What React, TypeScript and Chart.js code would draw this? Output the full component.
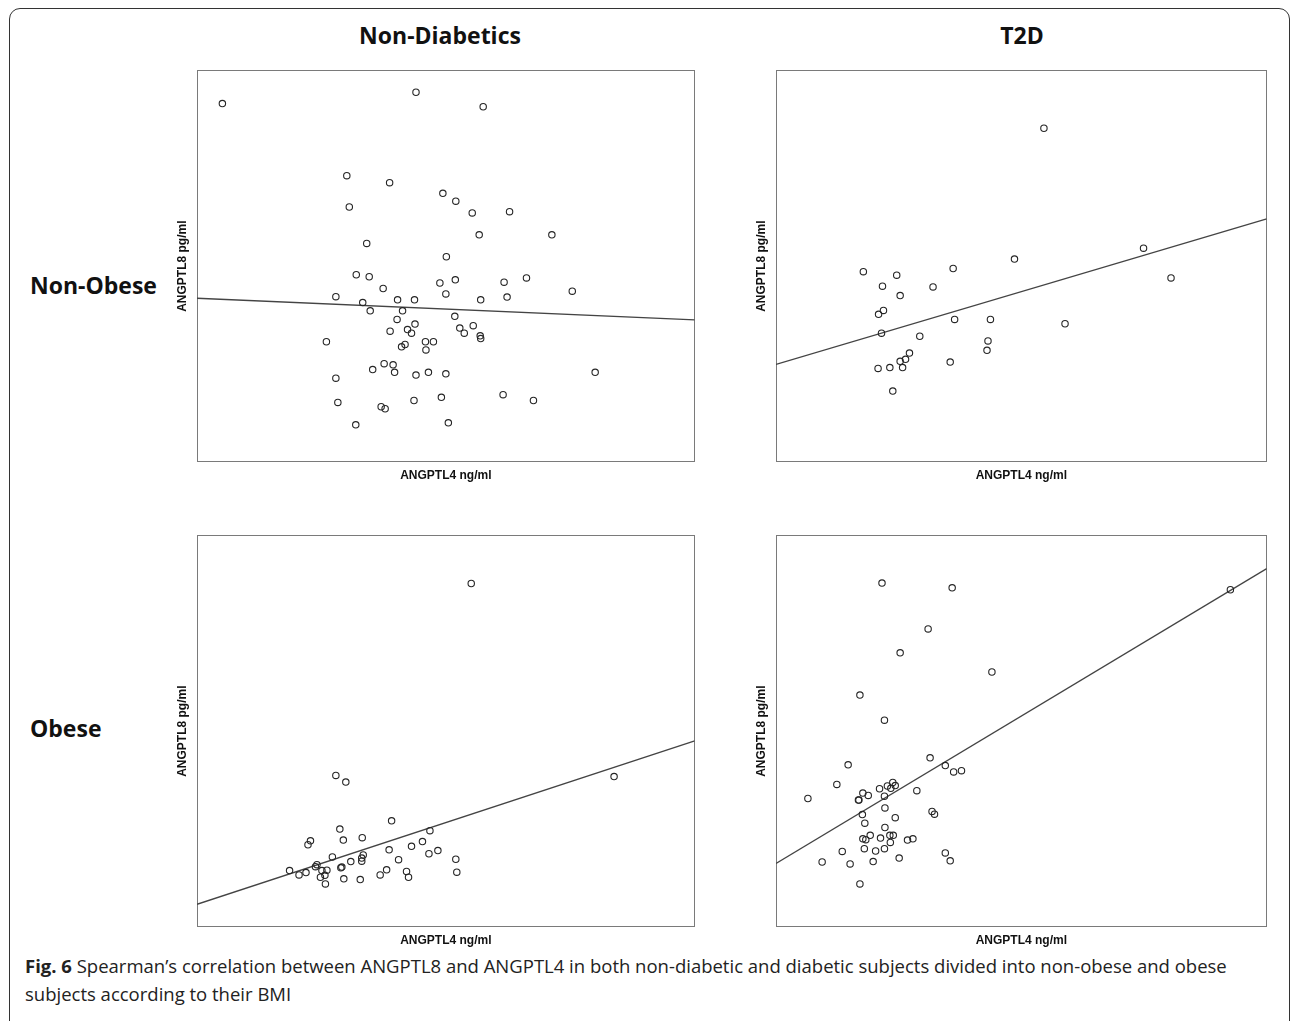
import React, { useEffect, useRef } from "react";
import { Chart, registerables } from "chart.js";

Chart.register(...registerables);

// ---------- text ----------
const xTitle = "ANGPTL4 ng/ml";
const yTitle = "ANGPTL8 pg/ml";
const colTitles = ["Non-Diabetics", "T2D"];
const rowTitles = ["Non-Obese", "Obese"];

// ---------- axis range (no ticks shown, relative units) ----------
const axisMin = 0;
const axisMax = 100;
const fitX = [0, 100];

// ---------- Non-Diabetics / Non-Obese ----------
const ndNonObeseX = [5.1, 44.0, 57.5, 30.1, 38.7, 49.4, 52.0, 55.3, 62.8, 30.6, 56.7, 71.3, 34.1, 50.1, 32.0, 34.6, 48.8, 51.9, 61.7, 66.2, 37.4, 50.0, 75.4, 27.9, 40.3, 43.7, 57.0, 62.3, 33.3, 34.8, 41.3, 51.8, 40.2, 43.8, 55.5, 38.8, 42.3, 43.1, 52.8, 53.7, 56.9, 57.0, 26.0, 45.9, 47.5, 41.8, 41.1, 46.0, 37.6, 39.4, 35.3, 39.7, 44.0, 46.5, 50.0, 80.0, 27.9, 61.5, 49.1, 28.3, 43.6, 67.6, 37.0, 37.8, 31.9, 50.5];
const ndNonObeseY = [91.5, 94.4, 90.7, 73.1, 71.3, 68.6, 66.6, 63.6, 63.9, 65.1, 58.0, 58.0, 55.8, 52.4, 47.8, 47.3, 45.7, 46.5, 45.9, 47.0, 44.3, 42.9, 43.6, 42.2, 41.4, 41.4, 41.4, 42.1, 40.7, 38.6, 38.6, 37.2, 36.4, 35.2, 34.8, 33.4, 33.8, 32.9, 34.2, 32.9, 32.2, 31.5, 30.7, 30.7, 30.7, 30.0, 29.4, 28.6, 25.1, 24.8, 23.6, 22.9, 22.2, 22.9, 22.5, 22.9, 21.4, 17.2, 16.5, 15.2, 15.7, 15.7, 14.1, 13.6, 9.5, 10.0];
const ndNonObeseFitY = [41.8, 36.3];

// ---------- T2D / Non-Obese ----------
const t2dNonObeseX = [54.6, 74.9, 48.6, 80.5, 17.8, 24.6, 36.1, 21.7, 32.0, 25.3, 21.9, 20.9, 36.4, 43.7, 58.9, 21.5, 29.3, 43.2, 43.0, 27.2, 26.4, 25.3, 35.5, 20.8, 23.2, 25.8, 23.8];
const t2dNonObeseY = [85.2, 54.6, 51.8, 47.0, 48.6, 47.7, 49.4, 44.9, 44.7, 42.5, 38.7, 37.7, 36.4, 36.4, 35.3, 32.9, 32.1, 30.9, 28.5, 27.8, 26.2, 25.7, 25.5, 23.9, 24.1, 24.1, 18.1];
const t2dNonObeseFitY = [24.9, 62.1];

// ---------- Non-Diabetics / Obese ----------
const ndObeseX = [55.1, 27.9, 29.9, 83.8, 39.1, 28.7, 46.8, 33.2, 29.4, 22.8, 22.3, 45.3, 43.1, 38.6, 48.4, 46.6, 27.2, 33.4, 33.1, 33.1, 30.9, 40.5, 52.0, 24.1, 23.8, 28.9, 29.1, 18.6, 21.9, 20.5, 26.1, 25.1, 25.7, 24.8, 25.8, 29.5, 32.8, 36.8, 38.1, 42.1, 42.5, 52.2];
const ndObeseY = [87.7, 38.7, 37.0, 38.4, 27.1, 25.0, 24.6, 22.8, 22.2, 22.0, 21.0, 21.8, 20.6, 19.7, 19.5, 18.7, 17.9, 18.4, 17.6, 16.8, 16.7, 17.2, 17.3, 15.9, 15.4, 15.1, 15.3, 14.4, 13.9, 13.3, 14.5, 14.4, 13.2, 12.7, 11.0, 12.3, 12.1, 13.3, 14.6, 14.2, 12.7, 14.0];
const ndObeseFitY = [5.8, 47.5];

// ---------- T2D / Obese ----------
const t2dObeseX = [21.6, 35.9, 92.6, 31.0, 25.3, 44.0, 17.1, 22.1, 31.4, 14.7, 34.5, 36.2, 37.8, 12.4, 22.7, 23.8, 24.3, 23.4, 21.1, 28.7, 6.5, 17.7, 18.8, 22.1, 16.8, 16.9, 22.2, 31.8, 32.3, 17.6, 24.3, 18.1, 22.2, 19.2, 17.7, 18.3, 21.3, 23.2, 23.9, 26.8, 27.9, 23.3, 18.0, 20.3, 22.1, 13.5, 34.5, 25.1, 9.4, 15.1, 19.8, 35.5, 17.1];
const t2dObeseY = [87.8, 86.6, 86.1, 76.1, 70.0, 65.1, 59.2, 52.8, 43.2, 41.4, 41.2, 39.6, 39.9, 36.4, 36.0, 36.9, 36.1, 35.4, 35.3, 34.8, 32.8, 34.2, 33.6, 33.4, 32.4, 32.4, 30.4, 29.5, 28.8, 28.7, 27.9, 26.5, 25.4, 23.4, 22.5, 22.3, 22.7, 23.4, 23.4, 22.2, 22.5, 21.6, 20.0, 19.4, 20.0, 19.3, 18.9, 17.6, 16.6, 16.1, 16.7, 16.9, 11.0];
const t2dObeseFitY = [16.2, 91.5];

// ---------- layout (page pixels of each plot box) ----------
const Y_SCALE_W = 20;
const X_SCALE_H = 24;
const PAD = 4;

const panels = [
  { xs: ndNonObeseX, ys: ndNonObeseY, fit: ndNonObeseFitY, box: { left: 197, top: 70, right: 695, bottom: 462 } },
  { xs: t2dNonObeseX, ys: t2dNonObeseY, fit: t2dNonObeseFitY, box: { left: 776, top: 70, right: 1267, bottom: 462 } },
  { xs: ndObeseX, ys: ndObeseY, fit: ndObeseFitY, box: { left: 197, top: 535, right: 695, bottom: 927 } },
  { xs: t2dObeseX, ys: t2dObeseY, fit: t2dObeseFitY, box: { left: 776, top: 535, right: 1267, bottom: 927 } },
];

const boxPlugin = {
  id: "plotBox",
  beforeDatasetsDraw(chart: any) {
    const { ctx, chartArea: a } = chart;
    ctx.save();
    ctx.strokeStyle = "#7a7a7a";
    ctx.lineWidth = 1;
    ctx.strokeRect(
      Math.round(a.left) + 0.5,
      Math.round(a.top) + 0.5,
      Math.round(a.right - a.left) - 1,
      Math.round(a.bottom - a.top) - 1
    );
    ctx.restore();
  },
};

const titleFont = { family: '"Liberation Sans", Arial, sans-serif', size: 12, weight: "bold" as const, lineHeight: 1 };

function Panel({ p }: { p: (typeof panels)[number] }) {
  const ref = useRef<HTMLCanvasElement | null>(null);
  const left = p.box.left - Y_SCALE_W;
  const top = p.box.top - PAD;
  const width = p.box.right - left + PAD;
  const height = p.box.bottom + X_SCALE_H - top;

  useEffect(() => {
    if (!ref.current) return;
    const points = p.xs.map((x, i) => ({ x, y: p.ys[i] }));
    const line = fitX.map((x, i) => ({ x, y: p.fit[i] }));
    const chart = new Chart(ref.current, {
      type: "scatter",
      data: {
        datasets: [
          {
            type: "scatter",
            data: points,
            pointStyle: "circle",
            pointRadius: 3.2,
            pointHoverRadius: 3.2,
            borderWidth: 1.1,
            borderColor: "#262626",
            backgroundColor: "rgba(0,0,0,0)",
          },
          {
            type: "line",
            data: line,
            borderColor: "#444",
            borderWidth: 1.3,
            pointRadius: 0,
            fill: false,
          } as any,
        ],
      },
      options: {
        animation: false,
        responsive: false,
        events: [],
        layout: { padding: { top: PAD, right: PAD, left: 0, bottom: 0 } },
        plugins: { legend: { display: false }, tooltip: { enabled: false } },
        scales: {
          x: {
            type: "linear",
            min: axisMin,
            max: axisMax,
            ticks: { display: false },
            grid: { display: false, drawTicks: false },
            border: { display: false },
            title: { display: true, text: xTitle, font: titleFont, color: "#111", padding: { top: 8, bottom: 4 } },
          },
          y: {
            type: "linear",
            min: axisMin,
            max: axisMax,
            ticks: { display: false },
            grid: { display: false, drawTicks: false },
            border: { display: false },
            title: { display: true, text: yTitle, font: titleFont, color: "#111", padding: { top: 0, bottom: 8 } },
          },
        },
      },
      plugins: [boxPlugin],
    });
    return () => chart.destroy();
  }, []);

  return (
    <canvas
      ref={ref}
      width={width}
      height={height}
      style={{ position: "absolute", left, top, width, height }}
    />
  );
}

const headFont = '"Open Sans", "Noto Sans", sans-serif';

export default function App() {
  useEffect(() => {
    document.body.style.margin = "0";
  }, []);

  return (
    <div style={{ position: "relative", width: 1292, height: 1021, overflow: "hidden", background: "#fff" }}>
      <div
        style={{
          position: "absolute",
          left: 9,
          top: 8,
          width: 1281,
          height: 1030,
          border: "1.5px solid #333",
          borderRadius: 11,
          boxSizing: "border-box",
        }}
      />
      {colTitles.map((t, i) => (
        <div
          key={t}
          style={{
            position: "absolute",
            left: i === 0 ? 440 : 1022,
            top: 24,
            transform: "translateX(-50%)",
            font: `bold 23px ${headFont}`,
            lineHeight: "23px",
            color: "#111",
            whiteSpace: "nowrap",
          }}
        >
          {t}
        </div>
      ))}
      {rowTitles.map((t, i) => (
        <div
          key={t}
          style={{
            position: "absolute",
            left: 30,
            top: i === 0 ? 274 : 717,
            font: `bold 23px ${headFont}`,
            lineHeight: "23px",
            color: "#111",
            whiteSpace: "nowrap",
          }}
        >
          {t}
        </div>
      ))}
      {panels.map((p, i) => (
        <Panel key={i} p={p} />
      ))}
      <div
        style={{
          position: "absolute",
          left: 25,
          top: 952,
          font: `18.5px ${headFont}`,
          lineHeight: "28px",
          color: "#222",
          whiteSpace: "nowrap",
        }}
      >
        <b>Fig. 6</b> Spearman’s correlation between ANGPTL8 and ANGPTL4 in both non-diabetic and diabetic subjects divided into non-obese and obese
        <br />
        subjects according to their BMI
      </div>
    </div>
  );
}
